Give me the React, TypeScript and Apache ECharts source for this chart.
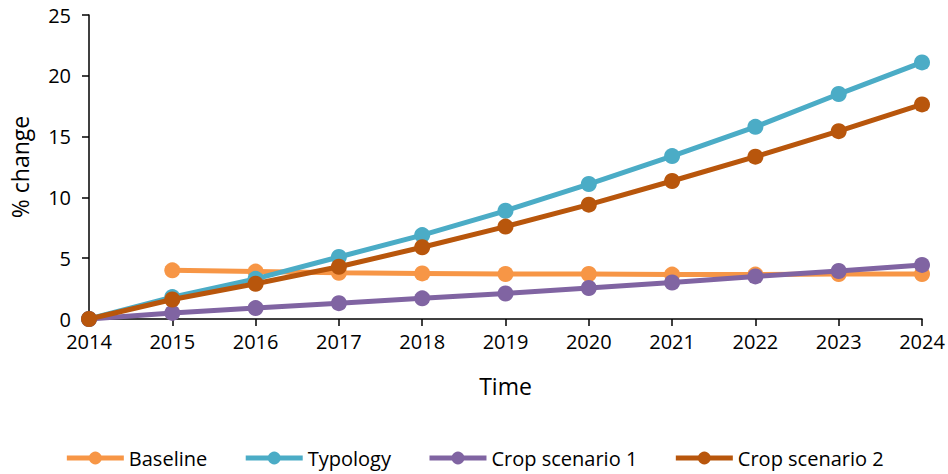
import React, { useEffect, useRef } from "react";
import * as echarts from "echarts";

const years = ["2014", "2015", "2016", "2017", "2018", "2019", "2020", "2021", "2022", "2023", "2024"];
const baseline = [null, 4.0, 3.9, 3.8, 3.75, 3.7, 3.7, 3.65, 3.65, 3.7, 3.7];
const typology = [0, 1.8, 3.3, 5.1, 6.9, 8.9, 11.1, 13.4, 15.8, 18.5, 21.1];
const crop1 = [0, 0.5, 0.9, 1.3, 1.7, 2.1, 2.55, 3.0, 3.5, 3.95, 4.45];
const crop2 = [0, 1.6, 2.9, 4.3, 5.9, 7.6, 9.4, 11.35, 13.35, 15.45, 17.65];

const FONT = "'Open Sans', 'Noto Sans', sans-serif";

export default function App() {
  const ref = useRef<HTMLDivElement>(null);
  useEffect(() => {
    if (!ref.current) return;
    const chart = echarts.init(ref.current, null, { renderer: "svg" });
    const mk = (name: string, data: (number | null)[], color: string, z: number) => ({
      name,
      type: "line",
      data,
      z,
      symbol: "circle",
      symbolSize: 16,
      lineStyle: { width: 5, color },
      itemStyle: { color },
      emphasis: { disabled: true },
    });
    chart.setOption({
      animation: false,
      textStyle: { fontFamily: FONT },
      grid: { left: 88, right: 26, top: 15, bottom: 155 },
      legend: {
        top: 447,
        left: "center",
        padding: 0,
        itemWidth: 57,
        itemHeight: 16,
        itemGap: 36,
        lineStyle: { width: 5 },
        textStyle: { fontSize: 20, lineHeight: 22, color: "#000", fontFamily: FONT },
        data: ["Baseline", "Typology", "Crop scenario 1", "Crop scenario 2"],
      },
      xAxis: {
        type: "category",
        data: years,
        boundaryGap: false,
        name: "Time",
        nameLocation: "middle",
        nameGap: 55,
        nameTextStyle: { fontSize: 23, color: "#000", fontFamily: FONT },
        axisLine: { lineStyle: { color: "#000", width: 1.5 } },
        axisTick: { show: true, length: 7, lineStyle: { color: "#000", width: 1.5 } },
        axisLabel: { fontSize: 20, color: "#000", margin: 12, fontFamily: FONT },
        splitLine: { show: false },
      },
      yAxis: {
        type: "value",
        min: 0,
        max: 25,
        interval: 5,
        name: "% change",
        nameLocation: "middle",
        nameGap: 58,
        nameTextStyle: { fontSize: 23, color: "#000", fontFamily: FONT },
        axisLine: { show: true, lineStyle: { color: "#000", width: 1.5 } },
        axisTick: { show: true, length: 7, lineStyle: { color: "#000", width: 1.5 } },
        axisLabel: { fontSize: 20, color: "#000", margin: 18, fontFamily: FONT },
        splitLine: { show: false },
      },
      series: [
        mk("Baseline", baseline, "#F79646", 2),
        mk("Typology", typology, "#4BACC6", 3),
        mk("Crop scenario 1", crop1, "#8064A2", 4),
        mk("Crop scenario 2", crop2, "#B8560C", 5),
      ],
    });
    return () => chart.dispose();
  }, []);
  return (
    <div
      ref={ref}
      style={{ position: "absolute", left: 0, top: 0, width: 948, height: 474, overflow: "hidden" }}
    />
  );
}
